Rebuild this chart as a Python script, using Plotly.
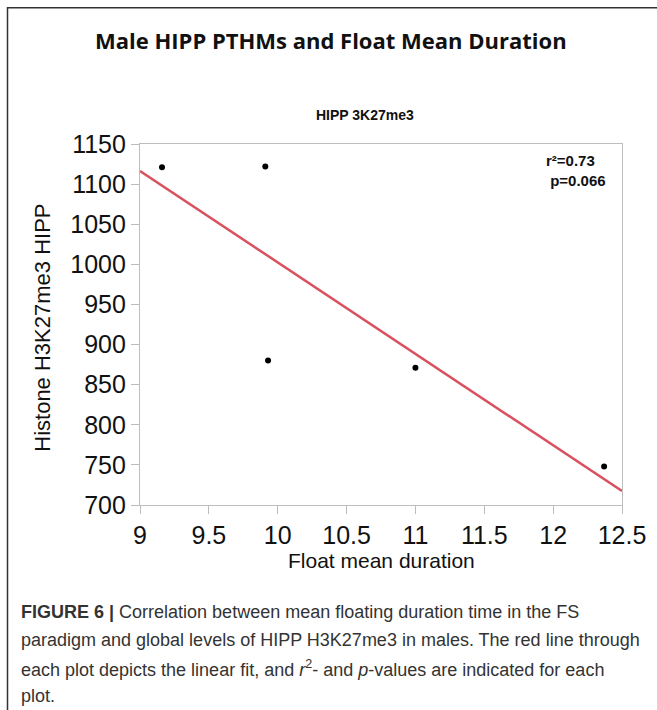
import numpy as np
import plotly.graph_objects as go

# Data
float_mean_duration = [9.16, 9.91, 9.93, 11.0, 12.37]
h3k27me3_hipp = [1121, 1122, 880, 871, 748]
x_ticks = [9, 9.5, 10, 10.5, 11, 11.5, 12, 12.5]
y_ticks = [700, 750, 800, 850, 900, 950, 1000, 1050, 1100, 1150]
stats_text = "r²=0.73<br> p=0.066"

# Linear fit computed from the data
slope, intercept = np.polyfit(float_mean_duration, h3k27me3_hipp, 1)
fit_x = [x_ticks[0], x_ticks[-1]]
fit_y = [slope * v + intercept for v in fit_x]

W, H = 657, 710
L, R, T = 140, 35, 144
plot_bottom = 505.5
B = H - plot_bottom
pw, ph = W - L - R, H - T - B

def px(x):
    return (x - L) / pw

def py(y):
    return 1 - (y - T) / ph

fig = go.Figure()
fig.add_trace(go.Scatter(x=fit_x, y=fit_y, mode="lines",
                         line=dict(color="#d9505f", width=2.5),
                         hoverinfo="skip", showlegend=False))
fig.add_trace(go.Scatter(x=float_mean_duration, y=h3k27me3_hipp, mode="markers",
                         marker=dict(color="black", size=6),
                         showlegend=False))

axis_common = dict(showgrid=False, zeroline=False, showline=True,
                   linecolor="#bdbdbd", linewidth=1.2, mirror=True,
                   ticks="outside", ticklen=8, tickcolor="#bdbdbd", tickwidth=1.2,
                   tickfont=dict(family="Liberation Sans, Arial", size=25, color="#111"))

fig.update_xaxes(range=[9, 12.5], tickvals=x_ticks,
                 ticktext=[f"{v:g}" for v in x_ticks], **axis_common)
fig.update_yaxes(range=[700, 1150], tickvals=y_ticks,
                 ticktext=[str(v) for v in y_ticks], **axis_common)

ann = []
ann.append(dict(text="<b>Male HIPP PTHMs and Float Mean Duration</b>", xref="paper", yref="paper",
                x=px(331), y=py(40), xanchor="center", yanchor="middle", showarrow=False,
                font=dict(family="Open Sans", size=22, color="#111")))
ann.append(dict(text="<b>HIPP 3K27me3</b>", xref="paper", yref="paper",
                x=px(365), y=py(115), xanchor="center", yanchor="middle", showarrow=False,
                font=dict(family="Liberation Sans, Arial", size=14, color="#111")))
ann.append(dict(text="<b>" + stats_text + "</b>", xref="paper", yref="paper",
                x=px(608), y=py(150), xanchor="right", yanchor="top", align="left",
                showarrow=False,
                font=dict(family="Liberation Sans, Arial", size=15, color="#111")))
ann.append(dict(text="Float mean duration", xref="paper", yref="paper",
                x=px(381), y=py(561), xanchor="center", yanchor="middle", showarrow=False,
                font=dict(family="Liberation Sans, Arial", size=21, color="#111")))
ann.append(dict(text="Histone H3K27me3 HIPP", xref="paper", yref="paper",
                x=px(43), y=py(328), xanchor="center", yanchor="middle", textangle=-90,
                showarrow=False,
                font=dict(family="Liberation Sans, Arial", size=22, color="#111")))

caption_lines = [
    "<b>FIGURE 6 |</b> Correlation between mean floating duration time in the FS",
    "paradigm and global levels of HIPP H3K27me3 in males. The red line through",
    "each plot depicts the linear fit, and <i>r</i><sup>2</sup>- and <i>p</i>-values are indicated for each",
    "plot.",
]
caption_y = [613, 641, 669, 697]
for line, yy in zip(caption_lines, caption_y):
    ann.append(dict(text=line, xref="paper", yref="paper",
                    x=px(19), y=py(yy), xanchor="left", yanchor="middle", showarrow=False,
                    font=dict(family="Liberation Sans, Arial", size=18, color="#333")))

fig.update_layout(
    width=W, height=H,
    margin=dict(l=L, r=R, t=T, b=B, pad=0),
    paper_bgcolor="white", plot_bgcolor="white",
    annotations=ann,
    shapes=[dict(type="rect", xref="paper", yref="paper",
                 x0=px(7.5), x1=px(720), y0=py(780), y1=py(7.5),
                 line=dict(color="#333", width=1.5), layer="above")],
)

fig.write_html("out.html", config={"displayModeBar": False},
               post_script="document.body.style.margin='0';document.body.style.overflow='hidden';")
